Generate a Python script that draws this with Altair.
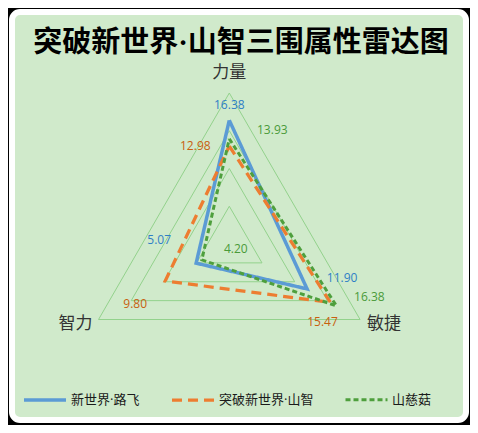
import altair as alt
import pandas as pd

# ---- data ----
CATEGORIES = ["力量", "敏捷", "智力"]
SERIES = ["新世界·路飞", "突破新世界·山智", "山慈菇"]
LUFFY = [16.38, 11.90, 5.07]
SANJI = [12.98, 15.47, 9.80]
SHANCIGU = [13.93, 16.38, 4.20]
GRID_LEVELS = [5, 10, 15, 20]
AXIS_MAX = 20

# ---- styles ----
LINE_COLORS = ["#5B9BD5", "#ED7D31", "#4E9F3D"]
TEXT_COLORS = ["#2F7FC6", "#C8600F", "#4A9A3A"]
DASHES = [[1, 0], [10, 6], [5, 3]]
WIDTHS = [3.5, 3, 2.5]
BG_GREEN = "#D0EACB"
GRID_COLOR = "#93D28C"
FONT_CJK = "Noto Sans CJK SC"
FONT_MIX = "Open Sans, Noto Sans CJK SC"
FONT_TITLE = "Liberation Serif, Noto Sans CJK SC"
FONT_NUM = "Open Sans"

# label offsets (dx, dy) per series / category
LABEL_OFFSETS = {
    ("新世界·路飞", "力量"): (0, -15),
    ("新世界·路飞", "敏捷"): (35, -11),
    ("新世界·路飞", "智力"): (-37, -23),
    ("突破新世界·山智", "力量"): (-34, 0),
    ("突破新世界·山智", "敏捷"): (-8, 20),
    ("突破新世界·山智", "智力"): (-30, 23),
    ("山慈菇", "力量"): (43, -9),
    ("山慈菇", "敏捷"): (33, -9),
    ("山慈菇", "智力"): (34, -11),
}

rows = []
for s, vals in zip(SERIES, [LUFFY, SANJI, SHANCIGU]):
    for i in range(len(CATEGORIES) + 1):
        k = i % len(CATEGORIES)
        rows.append({"series": s, "category": CATEGORIES[k], "idx": i, "value": vals[k]})
df = pd.DataFrame(rows)

grid_rows = []
for lvl in GRID_LEVELS:
    for i in range(len(CATEGORIES) + 1):
        grid_rows.append({"level": lvl, "idx": i, "value": lvl})
grid_df = pd.DataFrame(grid_rows)

cat_df = pd.DataFrame({"category": CATEGORIES, "idx": list(range(len(CATEGORIES))),
                       "value": [AXIS_MAX] * len(CATEGORIES)})

XD = [-28.78, 31.35]
YD = [-23.31, 30.73]


def polar(chart):
    return chart.transform_calculate(
        angle="PI/2 - datum.idx*2*PI/3"
    ).transform_calculate(
        x="datum.value*cos(datum.angle)", y="datum.value*sin(datum.angle)"
    )


X = alt.X("x:Q", scale=alt.Scale(domain=XD, nice=False, zero=False), axis=None)
Y = alt.Y("y:Q", scale=alt.Scale(domain=YD, nice=False, zero=False), axis=None)

grid = polar(alt.Chart(grid_df)).mark_line(color=GRID_COLOR, strokeWidth=1).encode(
    x=X, y=Y, order="idx:Q", detail="level:N"
)

legend = alt.Legend(
    title=None, orient="none", legendX=10, legendY=365, direction="horizontal",
    symbolType="stroke", symbolSize=1764, labelFont=FONT_MIX, labelFontSize=13,
    labelColor="#1a1a1a", columnPadding=25, labelOffset=3,
)

lines = polar(alt.Chart(df)).mark_line(strokeJoin="miter").encode(
    x=X, y=Y, order="idx:Q",
    color=alt.Color("series:N", scale=alt.Scale(domain=SERIES, range=LINE_COLORS), legend=legend),
    strokeDash=alt.StrokeDash("series:N", scale=alt.Scale(domain=SERIES, range=DASHES), legend=legend),
    strokeWidth=alt.StrokeWidth("series:N", scale=alt.Scale(domain=SERIES, range=WIDTHS), legend=legend),
)

layers = [grid, lines]

# category labels
cat_styles = {"力量": ("center", 0, -20), "敏捷": ("left", 7, 4), "智力": ("right", -6, 4)}
for c in CATEGORIES:
    al, dx, dy = cat_styles[c]
    layers.append(
        polar(alt.Chart(cat_df)).transform_filter(alt.datum.category == c)
        .mark_text(font=FONT_CJK, fontSize=17, color="#333333", align=al, baseline="middle", dx=dx, dy=dy)
        .encode(x=X, y=Y, text="category:N")
    )

# value labels
for si, s in enumerate(SERIES):
    for c in CATEGORIES:
        dx, dy = LABEL_OFFSETS[(s, c)]
        layers.append(
            polar(alt.Chart(df)).transform_filter(
                (alt.datum.series == s) & (alt.datum.category == c) & (alt.datum.idx < len(CATEGORIES))
            ).mark_text(font=FONT_NUM, fontSize=12, color=TEXT_COLORS[si], align="center",
                        baseline="middle", dx=dx, dy=dy)
            .encode(x=X, y=Y, text=alt.Text("value:Q", format=".2f"))
        )

chart = alt.layer(*layers).properties(
    width=454, height=408,
    padding={"left": 4, "top": 4, "right": 4, "bottom": 5},
    background="black",
    title=alt.TitleParams(
        text="突破新世界·山智三围属性雷达图", font=FONT_TITLE, fontSize=29, fontWeight="bold",
        color="black", offset=-46, anchor="middle", dx=2,
    ),
).configure_view(fill=BG_GREEN, stroke="white", strokeWidth=6, cornerRadius=8)

chart.save("out.html", embed_options={"renderer": "svg", "actions": False})
